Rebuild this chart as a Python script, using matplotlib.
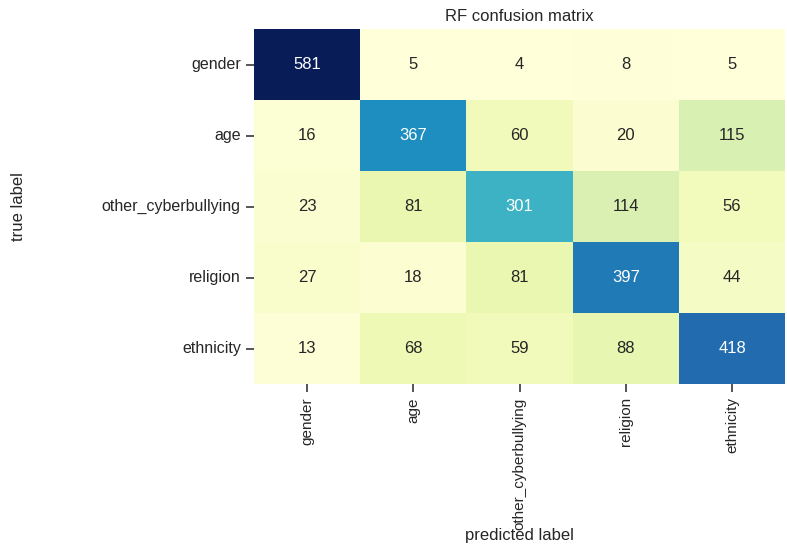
import matplotlib
matplotlib.use("Agg")
import matplotlib.pyplot as plt
import seaborn as sns
import numpy as np

labels = ["gender", "age", "other_cyberbullying", "religion", "ethnicity"]
row_gender = [581, 5, 4, 8, 5]
row_age = [16, 367, 60, 20, 115]
row_other = [23, 81, 301, 114, 56]
row_religion = [27, 18, 81, 397, 44]
row_ethnicity = [13, 68, 59, 88, 418]

cm = np.array([row_gender, row_age, row_other, row_religion, row_ethnicity])

sns.set_style("ticks")
plt.rcParams['font.family'] = ['Liberation Sans', 'DejaVu Sans']
plt.rcParams['text.color'] = '#262626'
plt.rcParams['axes.labelcolor'] = '#262626'
plt.rcParams['xtick.color'] = '#262626'
plt.rcParams['ytick.color'] = '#262626'

fig = plt.figure(figsize=(7.87, 5.48), dpi=100)
ax = fig.add_axes([0.3227, 0.299, 0.675, 0.648])
sns.heatmap(cm, annot=True, fmt="d", cmap="YlGnBu", cbar=False, ax=ax,
            xticklabels=labels, yticklabels=labels,
            annot_kws={"fontsize": 12})
ax.tick_params(axis='y', labelsize=11.5, length=6, width=1.1)
ax.tick_params(axis='x', labelsize=11, length=6, width=1.1)
plt.setp(ax.get_xticklabels(), rotation=90)
plt.setp(ax.get_yticklabels(), rotation=0)
ax.set_title("RF confusion matrix", fontsize=12, pad=6)
ax.set_xlabel("predicted label", fontsize=12)
ax.xaxis.set_label_coords(0.5, -0.405)
ax.set_ylabel("true label", fontsize=12)
ax.yaxis.set_label_coords(-0.43, 0.5)
fig.savefig("out.png", dpi=100)
